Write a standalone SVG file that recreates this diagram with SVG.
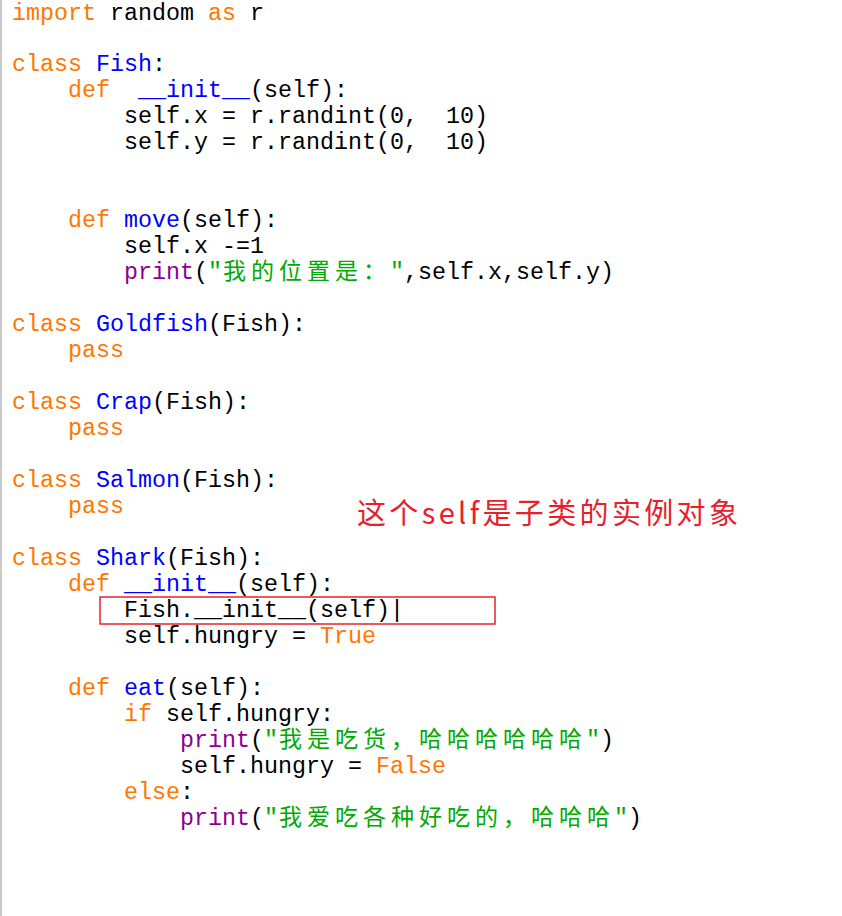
<svg xmlns="http://www.w3.org/2000/svg" width="842" height="916" viewBox="0 0 842 916">
<style>
text{font-family:"Liberation Mono","Noto Sans CJK SC",monospace;font-size:23.33px;fill:#000;white-space:pre}
.k{fill:#ff7700}.n{fill:#0000ff}.p{fill:#900090}.s{fill:#00aa00}
.c{font-family:"Noto Sans CJK SC",sans-serif;font-size:23px}
.note{font-family:"Noto Sans CJK SC","Liberation Sans",sans-serif;font-size:29px;fill:#e8202a}
</style>
<rect width="842" height="916" fill="#fff"/>
<line x1="1" y1="0" x2="1" y2="916" stroke="#c8c8c8" stroke-width="2"/>
<g id="code">
<text x="12" y="20" xml:space="preserve"><tspan class="k">import</tspan> random <tspan class="k">as</tspan> r</text>
<text x="12" y="71" xml:space="preserve"><tspan class="k">class</tspan> <tspan class="n">Fish</tspan>:</text>
<text x="68" y="97" xml:space="preserve"><tspan class="k">def</tspan>  <tspan class="n">__init__</tspan>(self):</text>
<text x="124" y="123" xml:space="preserve">self.x = r.randint(0,  10)</text>
<text x="124" y="149" xml:space="preserve">self.y = r.randint(0,  10)</text>
<text x="68" y="227" xml:space="preserve"><tspan class="k">def</tspan> <tspan class="n">move</tspan>(self):</text>
<text x="124" y="253" xml:space="preserve">self.x -=1</text>
<text x="124" y="279" xml:space="preserve"><tspan class="p">print</tspan>(<tspan class="s">"</tspan></text>
<text y="279" class="s c"><tspan x="223">我</tspan><tspan x="251">的</tspan><tspan x="279">位</tspan><tspan x="307">置</tspan><tspan x="335">是</tspan><tspan x="363">：</tspan></text>
<text x="390" y="279" xml:space="preserve"><tspan class="s">"</tspan>,self.x,self.y)</text>
<text x="12" y="331" xml:space="preserve"><tspan class="k">class</tspan> <tspan class="n">Goldfish</tspan>(Fish):</text>
<text x="68" y="357" class="k">pass</text>
<text x="12" y="409" xml:space="preserve"><tspan class="k">class</tspan> <tspan class="n">Crap</tspan>(Fish):</text>
<text x="68" y="435" class="k">pass</text>
<text x="12" y="487" xml:space="preserve"><tspan class="k">class</tspan> <tspan class="n">Salmon</tspan>(Fish):</text>
<text x="68" y="513" class="k">pass</text>
<text x="12" y="565" xml:space="preserve"><tspan class="k">class</tspan> <tspan class="n">Shark</tspan>(Fish):</text>
<text x="68" y="591" xml:space="preserve"><tspan class="k">def</tspan> <tspan class="n">__init__</tspan>(self):</text>
<text x="124" y="617" xml:space="preserve">Fish.__init__(self)|</text>
<text x="124" y="643" xml:space="preserve">self.hungry = <tspan class="k">True</tspan></text>
<text x="68" y="695" xml:space="preserve"><tspan class="k">def</tspan> <tspan class="n">eat</tspan>(self):</text>
<text x="124" y="721" xml:space="preserve"><tspan class="k">if</tspan> self.hungry:</text>
<text x="180" y="747" xml:space="preserve"><tspan class="p">print</tspan>(<tspan class="s">"</tspan></text>
<text y="747" class="s c"><tspan x="279">我</tspan><tspan x="307">是</tspan><tspan x="335">吃</tspan><tspan x="363">货</tspan><tspan x="391">，</tspan><tspan x="419">哈</tspan><tspan x="447">哈</tspan><tspan x="475">哈</tspan><tspan x="503">哈</tspan><tspan x="531">哈</tspan><tspan x="559">哈</tspan></text>
<text x="586" y="747" xml:space="preserve"><tspan class="s">"</tspan>)</text>
<text x="180" y="773" xml:space="preserve">self.hungry = <tspan class="k">False</tspan></text>
<text x="124" y="799" xml:space="preserve"><tspan class="k">else</tspan>:</text>
<text x="180" y="825" xml:space="preserve"><tspan class="p">print</tspan>(<tspan class="s">"</tspan></text>
<text y="825" class="s c"><tspan x="279">我</tspan><tspan x="307">爱</tspan><tspan x="335">吃</tspan><tspan x="363">各</tspan><tspan x="391">种</tspan><tspan x="419">好</tspan><tspan x="447">吃</tspan><tspan x="475">的</tspan><tspan x="503">，</tspan><tspan x="531">哈</tspan><tspan x="559">哈</tspan><tspan x="587">哈</tspan></text>
<text x="614" y="825" xml:space="preserve"><tspan class="s">"</tspan>)</text>
</g>
<g id="annotation">
<rect x="100" y="597" width="395" height="27" fill="none" stroke="#e8202a" stroke-width="1.5"/>
<text x="357" y="524" class="note" textLength="381" lengthAdjust="spacing">这个self是子类的实例对象</text>
</g>
</svg>
